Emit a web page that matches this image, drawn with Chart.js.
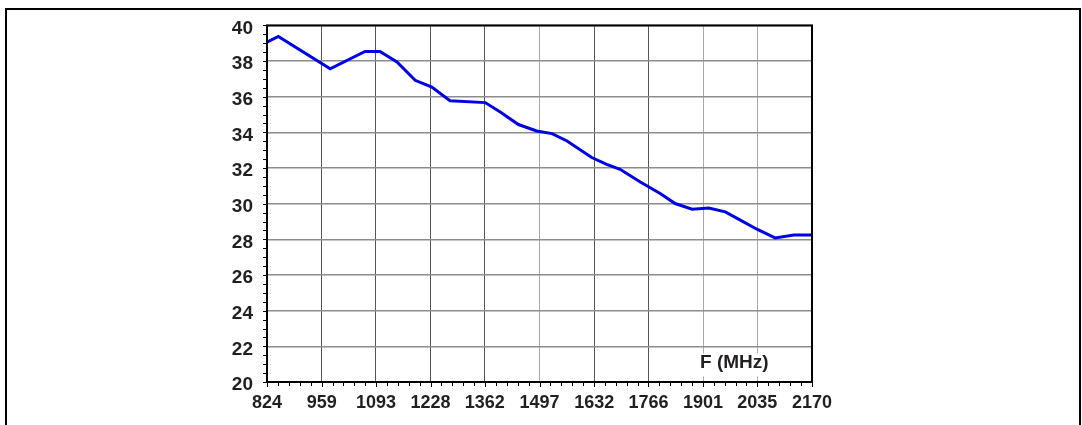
<!DOCTYPE html>
<html>
<head>
<meta charset="utf-8">
<script src="https://cdn.jsdelivr.net/npm/chart.js@4/dist/chart.umd.min.js"></script>
<style>
  html, body { margin: 0; padding: 0; background: #fff; }
  #wrap { position: relative; width: 1082px; height: 425px; overflow: hidden; }
  #grafico { position: absolute; left: 0; top: 0; }
  #marco { position: absolute; left: 5px; top: 8px; width: 1072px; height: 440px;
           border: 2px solid #000; pointer-events: none; }
</style>
</head>
<body>
<div id="wrap">
  <canvas id="grafico" width="1082" height="425"></canvas>
  <div id="marco"></div>
</div>
<script>
// frecuencias (MHz) y valores
var frecuencia = [824, 852, 980, 1066, 1103, 1145, 1190, 1231, 1276, 1363, 1400, 1445, 1490, 1528,
                  1565, 1626, 1663, 1696, 1746, 1795, 1832, 1874, 1915, 1956, 1993, 2034, 2079, 2125, 2170];
var valores = [39.06, 39.38, 37.57, 38.54, 38.54, 37.95, 36.92, 36.54, 35.77, 35.67, 35.14, 34.44, 34.08, 33.93,
               33.52, 32.59, 32.21, 31.93, 31.22, 30.57, 30.01, 29.69, 29.76, 29.54, 29.08, 28.57, 28.08, 28.24, 28.24];
var ticksX = [824, 959, 1093, 1228, 1362, 1497, 1632, 1766, 1901, 2035, 2170];
var ticksY = [20, 22, 24, 26, 28, 30, 32, 34, 36, 38, 40];
var etiquetaX = 'F (MHz)';

var puntos = [];
for (var i in frecuencia) {
    puntos.push({ x: frecuencia[i], y: valores[i] });
}

var fuente = { family: 'Liberation Sans, Arial, sans-serif', size: 18, weight: 'bold' };

// marco del area, ticks menores y etiqueta F (MHz)
var extras = {
    id: 'extras',
    afterDraw: function(chart) {
        var ctx = chart.ctx, a = chart.chartArea;
        var sx = chart.scales.x, sy = chart.scales.y;
        ctx.save();
        ctx.strokeStyle = '#000';
        ctx.lineWidth = 1;
        // ticks menores eje x
        for (var k = 0; k < ticksX.length - 1; k++) {
            var paso = (ticksX[k + 1] - ticksX[k]) / 5;
            for (var m = 0; m <= 5; m++) {
                var px = Math.round(sx.getPixelForValue(ticksX[k] + paso * m)) + 0.5;
                ctx.beginPath();
                ctx.moveTo(px, a.bottom);
                ctx.lineTo(px, a.bottom + (m % 5 === 0 ? 5 : 4));
                ctx.stroke();
            }
        }
        // ticks menores eje y
        for (var v = ticksY[0]; v <= ticksY[ticksY.length - 1]; v += 0.5) {
            var py = Math.round(sy.getPixelForValue(v)) + 0.5;
            ctx.beginPath();
            ctx.moveTo(a.left - 4, py);
            ctx.lineTo(a.left, py);
            ctx.stroke();
        }
        // caja
        ctx.lineWidth = 2;
        ctx.strokeRect(a.left, a.top, a.right - a.left, a.bottom - a.top);
        ctx.restore();
    },
    beforeDatasetsDraw: function(chart) {
        var ctx = chart.ctx;
        var sx = chart.scales.x, sy = chart.scales.y;
        var xt = sx.getPixelForValue(1901) - 3;
        var yt = sy.getPixelForValue(21.1);
        ctx.save();
        ctx.fillStyle = '#fff';
        ctx.fillRect(xt - 8, yt - 9, 108, 23);
        ctx.fillStyle = '#231f20';
        ctx.font = 'bold 19px Liberation Sans, Arial, sans-serif';
        ctx.textBaseline = 'alphabetic';
        ctx.fillText(etiquetaX, xt, yt + 6);
        ctx.restore();
    }
};

var grisX = ['#444', '#555', '#555', '#555', '#555', '#aaa', '#555', '#555', '#aaa', '#aaa', '#444'];

var graph = new Chart(document.getElementById('grafico'), {
    type: 'line',
    data: {
        datasets: [{
            data: puntos,
            borderColor: '#0000e8',
            borderWidth: 3,
            pointRadius: 0,
            tension: 0,
            fill: false
        }]
    },
    options: {
        responsive: false,
        animation: false,
        events: [],
        layout: { padding: { left: 0, top: 25, right: 270, bottom: 0 } },
        plugins: { legend: { display: false }, tooltip: { enabled: false } },
        scales: {
            x: {
                type: 'linear',
                min: 824,
                max: 2170,
                afterBuildTicks: function(scale) {
                    scale.ticks = ticksX.map(function(v) { return { value: v }; });
                },
                afterFit: function(scale) { scale.height = 43; },
                border: { display: false },
                grid: {
                    drawTicks: false,
                    lineWidth: 1,
                    color: function(c) { return grisX[c.index] || '#555'; }
                },
                ticks: {
                    autoSkip: false,
                    maxRotation: 0,
                    padding: 10,
                    color: '#231f20',
                    font: fuente,
                    callback: function(v) { return String(v); }
                }
            },
            y: {
                min: 20,
                max: 40,
                afterBuildTicks: function(scale) {
                    scale.ticks = ticksY.map(function(v) { return { value: v }; });
                },
                afterFit: function(scale) { scale.width = 267; },
                border: { display: false },
                grid: {
                    drawTicks: false,
                    lineWidth: 1.5,
                    color: '#8c8c8c'
                },
                ticks: {
                    padding: 14,
                    labelOffset: 3,
                    color: '#231f20',
                    font: { family: 'Liberation Sans, Arial, sans-serif', size: 19, weight: 'bold' },
                    callback: function(v) { return String(v); }
                }
            }
        }
    },
    plugins: [extras]
});
</script>
</body>
</html>
